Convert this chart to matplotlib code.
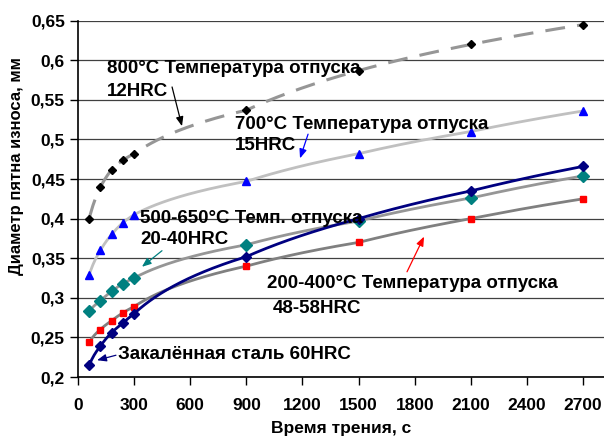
import matplotlib.pyplot as plt
import numpy as np

plt.rcParams['font.family'] = ['Liberation Sans', 'DejaVu Sans']
plt.rcParams['font.weight'] = 'bold'

# время трения, с
t = [60, 120, 180, 240, 300, 900, 1500, 2100, 2700]

# диаметр пятна износа, мм
d_800 = [0.400, 0.440, 0.462, 0.474, 0.482, 0.537, 0.587, 0.620, 0.645]
d_700 = [0.329, 0.360, 0.380, 0.395, 0.405, 0.447, 0.482, 0.510, 0.536]
d_500 = [0.283, 0.296, 0.308, 0.318, 0.325, 0.367, 0.397, 0.426, 0.454]
d_200 = [0.244, 0.260, 0.271, 0.281, 0.289, 0.340, 0.370, 0.400, 0.425]
d_60hrc = [0.215, 0.239, 0.256, 0.268, 0.280, 0.352, 0.400, 0.435, 0.466]

xticks = [0, 300, 600, 900, 1200, 1500, 1800, 2100, 2400, 2700]
yticks = [0.2, 0.25, 0.3, 0.35, 0.4, 0.45, 0.5, 0.55, 0.6, 0.65]
ylabels = ['0,2', '0,25', '0,3', '0,35', '0,4', '0,45', '0,5', '0,55', '0,6', '0,65']

fig = plt.figure(figsize=(6.04, 4.36), dpi=100)
ax = fig.add_axes([0.1291, 0.1353, 0.8709, 0.8172])

# smoothed line through the points (linear in log of time)
tt = np.linspace(t[0], t[-1], 400)


def smooth(y):
    return np.interp(np.log(tt), np.log(t), y)


ax.plot(tt, smooth(d_800), color='#969696', lw=2.2, dashes=(6.5, 4), zorder=3)
ax.plot(t, d_800, ls='none', marker='D', ms=4.2, color='black', zorder=4)

ax.plot(tt, smooth(d_700), color='#c0c0c0', lw=2, zorder=3)
ax.plot(t, d_700, ls='none', marker='^', ms=5.5, color='#0000ff', zorder=4)

ax.plot(tt, smooth(d_500), color='#969696', lw=2, zorder=3)
ax.plot(t, d_500, ls='none', marker='D', ms=6, color='#008080', zorder=4)

ax.plot(tt, smooth(d_200), color='#808080', lw=2, zorder=3)
ax.plot(t, d_200, ls='none', marker='s', ms=5, color='#ff0000', zorder=4)

ax.plot(tt, smooth(d_60hrc), color='#000080', lw=2, zorder=5)
ax.plot(t, d_60hrc, ls='none', marker='D', ms=5.2, color='#000080', zorder=6)

ax.set_xlim(0, 2812)
ax.set_ylim(0.2, 0.65)
ax.set_xticks(xticks)
ax.set_yticks(yticks)
ax.set_yticklabels(ylabels)
ax.tick_params(axis='both', labelsize=12.5, direction='out', length=6, width=1)
ax.tick_params(axis='x', pad=9)
ax.grid(axis='y', color='#404040', lw=0.9)
ax.set_axisbelow(True)
for s in ['top', 'right']:
    ax.spines[s].set_visible(False)
for s in ['left', 'bottom']:
    ax.spines[s].set_linewidth(1.2)

ax.set_xlabel('Время трения, с', fontsize=12.5, fontweight='bold', labelpad=6)
ax.set_ylabel('Диаметр пятна износа, мм', fontsize=12, fontweight='bold')
ax.yaxis.set_label_coords(-0.103, 0.592)

tf = dict(fontsize=13.5, fontweight='bold', va='center', ha='left', zorder=7)
ax.text(155, 0.5892, '800°C Температура отпуска', **tf)
ax.text(155, 0.5600, '12HRC', **tf)
ax.text(840, 0.5195, '700°C Температура отпуска', **tf)
ax.text(840, 0.4928, '15HRC', **tf)
ax.text(332, 0.3999, '500-650°C Темп. отпуска', **tf)
ax.text(332, 0.3733, '20-40HRC', **tf)
ax.text(1011, 0.3176, '200-400°C Температура отпуска', **tf)
ax.text(1043, 0.2859, '48-58HRC', **tf)
ax.text(214, 0.2288, 'Закалённая сталь 60HRC', **tf)


def arrow(x0, y0, x1, y1, c):
    ax.annotate('', xy=(x1, y1), xytext=(x0, y0), zorder=8,
                arrowprops=dict(arrowstyle='-|>,head_length=0.55,head_width=0.22',
                                color=c, lw=0.9, shrinkA=0, shrinkB=0))


arrow(503, 0.5663, 556, 0.5168, 'black')
arrow(1230, 0.5067, 1187, 0.4762, '#0000ff')
arrow(449, 0.3595, 342, 0.3392, '#008080')
arrow(1759, 0.3329, 1850, 0.3773, '#ff0000')
arrow(203, 0.2275, 102, 0.2212, '#000080')

fig.savefig('out.png', dpi=100)
